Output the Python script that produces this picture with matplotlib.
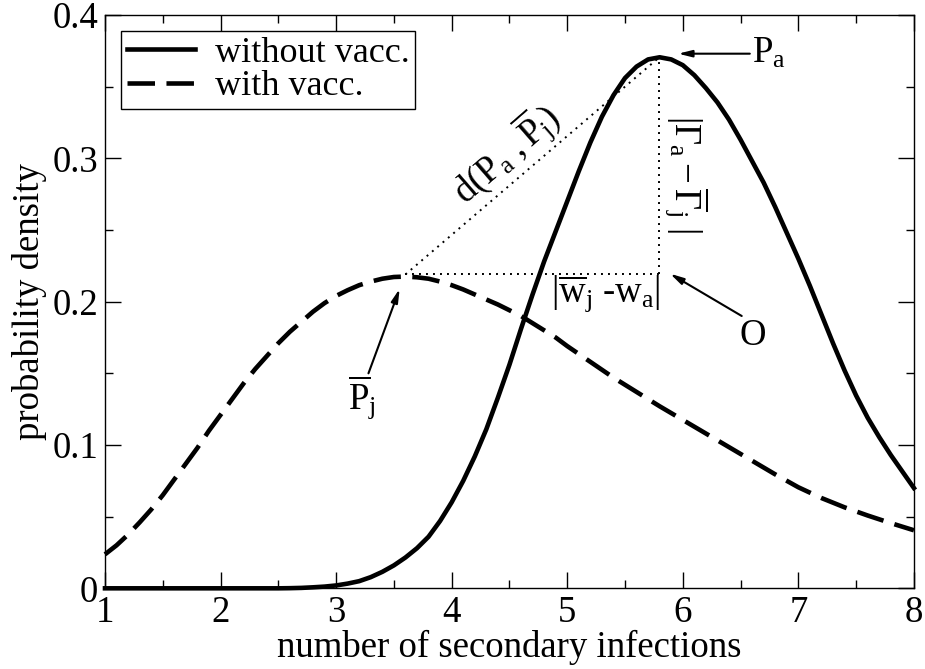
import matplotlib
matplotlib.use("Agg")
import matplotlib.pyplot as plt
from matplotlib.ticker import MultipleLocator

# solid curve, without vaccination
x_without = [1.0, 1.5, 2.0, 2.5, 2.6, 2.7, 2.8, 2.9, 3.0, 3.1, 3.2, 3.3, 3.4, 3.5,
             3.6, 3.7, 3.8, 3.9, 4.0, 4.1, 4.2, 4.3, 4.4, 4.5, 4.6, 4.7, 4.8, 4.9,
             5.0, 5.1, 5.2, 5.3, 5.4, 5.5, 5.6, 5.7, 5.8, 5.9, 6.0, 6.1, 6.2, 6.3,
             6.4, 6.5, 6.6, 6.7, 6.8, 6.9, 7.0, 7.1, 7.2, 7.3, 7.4, 7.5, 7.6, 7.7,
             7.8, 7.9, 8.0]
y_without = [0.0, 0.0, 0.0, 0.0, 0.0001, 0.0003, 0.0007, 0.0012, 0.002, 0.0033, 0.005,
             0.0078, 0.0115, 0.016, 0.0215, 0.028, 0.036, 0.047, 0.060, 0.075, 0.092,
             0.111, 0.133, 0.156, 0.181, 0.205, 0.228, 0.249, 0.270, 0.291, 0.311,
             0.329, 0.344, 0.356, 0.364, 0.369, 0.3705, 0.369, 0.365, 0.358, 0.349,
             0.339, 0.327, 0.313, 0.298, 0.283, 0.266, 0.248, 0.230, 0.211, 0.191,
             0.171, 0.152, 0.1345, 0.119, 0.1055, 0.093, 0.0815, 0.070]

# dashed curve, with vaccination
x_with = [1.0, 1.1, 1.2, 1.3, 1.4, 1.5, 1.6, 1.7, 1.8, 1.9, 2.0, 2.1, 2.2, 2.3, 2.4,
          2.5, 2.6, 2.7, 2.8, 2.9, 3.0, 3.1, 3.2, 3.3, 3.4, 3.5, 3.6, 3.7, 3.8, 3.9,
          4.0, 4.1, 4.2, 4.3, 4.4, 4.5, 4.6, 4.7, 4.8, 4.9, 5.0, 5.2, 5.4, 5.6, 5.8,
          6.0, 6.2, 6.4, 6.6, 6.8, 7.0, 7.2, 7.4, 7.6, 7.8, 8.0]
y_with = [0.0237, 0.030, 0.0375, 0.046, 0.055, 0.065, 0.076, 0.087, 0.098, 0.110,
          0.121, 0.132, 0.143, 0.153, 0.162, 0.171, 0.179, 0.186, 0.193, 0.199,
          0.204, 0.208, 0.2115, 0.214, 0.216, 0.2172, 0.2175, 0.217, 0.216, 0.214,
          0.2115, 0.2085, 0.205, 0.2015, 0.198, 0.194, 0.190, 0.185, 0.180, 0.175,
          0.169, 0.158, 0.147, 0.137, 0.127, 0.1175, 0.108, 0.0985, 0.089, 0.0795,
          0.0705, 0.063, 0.0565, 0.0508, 0.0455, 0.0405]

# points used by the geometric annotation
pa_point = (5.79, 0.370)
pj_point = (3.60, 0.219)
o_point = (5.79, 0.219)

x_ticks = [1, 2, 3, 4, 5, 6, 7, 8]
x_tick_labels = ["1", "2", "3", "4", "5", "6", "7", "8"]
y_ticks = [0, 0.1, 0.2, 0.3, 0.4]
y_tick_labels = ["0", "0.1", "0.2", "0.3", "0.4"]

plt.rcParams["font.family"] = ["Liberation Serif", "DejaVu Serif"]
plt.rcParams["mathtext.fontset"] = "custom"
plt.rcParams["mathtext.rm"] = "Liberation Serif"
plt.rcParams["mathtext.it"] = "Liberation Serif:italic"

FS = 26.5

fig = plt.figure(figsize=(9.25, 6.69), dpi=100)
ax = fig.add_axes([0.1135, 0.1206, 0.8745, 0.857])

ax.plot(x_with, y_with, color="black", lw=3.3, linestyle=(0, (6.0, 2.5)),
        dash_capstyle="butt", label="with vacc.", clip_on=False)
ax.plot(x_without, y_without, color="black", lw=3.3, label="without vacc.", clip_on=False)

# dotted triangle between the two maxima
dot = dict(color="black", lw=1.4, linestyle=(0, (1, 2.6)))
ax.plot([pj_point[0], pa_point[0]], [pj_point[1], pa_point[1]], **dot)
ax.plot([pj_point[0], o_point[0]], [pj_point[1], o_point[1]], **dot)
ax.plot([o_point[0], pa_point[0]], [o_point[1], pa_point[1]], **dot)

arrow = dict(arrowstyle="-|>,head_length=0.8,head_width=0.2", color="black", lw=1.5,
             shrinkA=0, shrinkB=0)
ax.annotate("", xy=(5.96, 0.373), xytext=(6.58, 0.373), arrowprops=arrow)
ax.annotate("", xy=(3.55, 0.209), xytext=(3.28, 0.150), arrowprops=arrow)
ax.annotate("", xy=(5.89, 0.2195), xytext=(6.51, 0.190), arrowprops=arrow)

ax.text(6.60, 0.3666, r"$\mathrm{P_a}$", fontsize=FS, ha="left", va="baseline")
ax.text(3.10, 0.1256, r"$\overline{\mathrm{P}}_\mathrm{j}$", fontsize=FS,
        ha="left", va="baseline")
ax.text(6.49, 0.170, "O", fontsize=FS, ha="left", va="baseline")
ax.text(4.86, 0.200, r"|$\overline{\mathrm{w}}_\mathrm{j}$ -w$_\mathrm{a}$|",
        fontsize=FS, ha="left", va="baseline")
ax.text(6.04, 0.2895, r"$|\Gamma_\mathrm{a}-\overline{\Gamma}_\mathrm{j}\ |$",
        fontsize=FS, ha="center", va="center", rotation=-90)
ax.text(4.465, 0.3034, r"$\mathrm{d(P_a\ ,}\overline{\mathrm{P}}_\mathrm{j}\mathrm{)}$",
        fontsize=FS, ha="center", va="center", rotation=41)

ax.set_xlim(1, 8)
ax.set_ylim(0, 0.4)
ax.set_xticks(x_ticks, x_tick_labels)
ax.set_yticks(y_ticks, y_tick_labels)
ax.xaxis.set_minor_locator(MultipleLocator(0.5))
ax.yaxis.set_minor_locator(MultipleLocator(0.05))
ax.tick_params(which="both", direction="in", top=True, right=True, width=1,
               labelsize=FS)
ax.tick_params(which="major", length=11.5, pad=5)
ax.tick_params(which="minor", length=6)
for s in ax.spines.values():
    s.set_linewidth(1.0)

ax.set_xlabel("number of secondary infections", fontsize=FS, labelpad=0)
ax.set_ylabel("probability density", fontsize=FS, labelpad=4)

handles, labels = ax.get_legend_handles_labels()
leg = ax.legend(handles[::-1], labels[::-1], loc="upper left", fontsize=26,
                frameon=True, fancybox=False, edgecolor="black", framealpha=1,
                handlelength=1.9, handletextpad=0.55, borderpad=0.15,
                labelspacing=0.0, borderaxespad=0.45)
leg.get_frame().set_linewidth(1.0)

fig.savefig("out.png", dpi=100)
